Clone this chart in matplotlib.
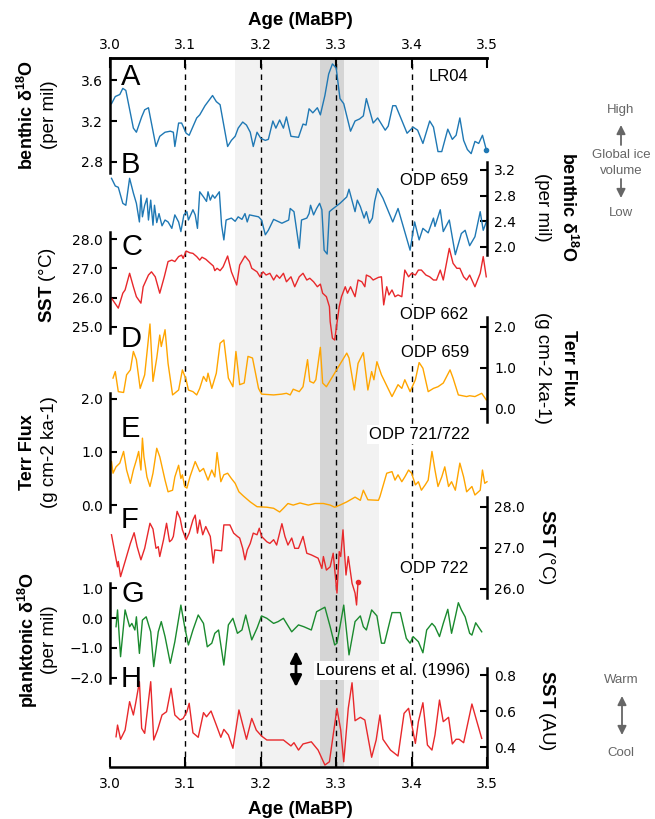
import matplotlib
matplotlib.use("Agg")
import matplotlib.pyplot as plt

plt.rcParams['mathtext.fontset'] = 'custom'
plt.rcParams['mathtext.rm'] = 'Liberation Sans'
plt.rcParams['mathtext.bf'] = 'Liberation Sans:bold'
plt.rcParams['mathtext.it'] = 'Liberation Sans:italic'

# ---- data (age in Ma, value) ----
lr04 = [(3.002, 3.37), (3.007, 3.44), (3.013, 3.46), (3.017, 3.52), (3.021, 3.50), (3.031, 3.13),
        (3.035, 3.09), (3.042, 3.24), (3.046, 3.31), (3.051, 3.33), (3.061, 2.95), (3.066, 3.05),
        (3.073, 3.09), (3.080, 3.10), (3.084, 3.09), (3.086, 2.95), (3.091, 3.18), (3.095, 3.18),
        (3.101, 3.08), (3.105, 3.06), (3.115, 3.23), (3.119, 3.26), (3.126, 3.35), (3.130, 3.39),
        (3.136, 3.45), (3.141, 3.39), (3.146, 3.36), (3.156, 2.95), (3.161, 3.01), (3.166, 3.05),
        (3.170, 3.13), (3.176, 3.19), (3.181, 3.16), (3.186, 3.09), (3.190, 2.95), (3.195, 3.09),
        (3.200, 3.03), (3.206, 3.01), (3.210, 3.02), (3.216, 3.20), (3.220, 3.13), (3.225, 3.21),
        (3.230, 3.13), (3.234, 3.24), (3.240, 3.05), (3.250, 3.04), (3.256, 3.17), (3.260, 3.16),
        (3.264, 3.32), (3.269, 3.28), (3.275, 3.33), (3.279, 3.26), (3.285, 3.45), (3.290, 3.66),
        (3.295, 3.76), (3.300, 3.72), (3.305, 3.42), (3.310, 3.37), (3.319, 3.10), (3.325, 3.20),
        (3.331, 3.22), (3.336, 3.25), (3.340, 3.42), (3.349, 3.18), (3.355, 3.23), (3.365, 3.11),
        (3.369, 3.15), (3.375, 3.35), (3.379, 3.35), (3.394, 3.08), (3.402, 3.14), (3.408, 3.11),
        (3.415, 2.98), (3.424, 3.20), (3.429, 3.14), (3.435, 2.90), (3.440, 2.90), (3.448, 3.12),
        (3.454, 3.02), (3.459, 3.06), (3.464, 3.23), (3.469, 3.01), (3.474, 2.92), (3.479, 2.88),
        (3.484, 3.00), (3.489, 2.98), (3.494, 3.06), (3.499, 2.92)]

odp659_d18o = [(3.002, 3.07), (3.007, 2.95), (3.011, 2.93), (3.017, 2.68), (3.021, 2.65), (3.026, 3.07),
               (3.031, 2.84), (3.035, 2.68), (3.039, 2.39), (3.041, 2.81), (3.043, 2.47), (3.046, 2.65),
               (3.049, 2.76), (3.051, 2.42), (3.054, 2.73), (3.057, 2.34), (3.059, 2.65), (3.062, 2.38),
               (3.065, 2.52), (3.069, 2.33), (3.073, 2.42), (3.077, 2.39), (3.082, 2.29), (3.086, 2.50),
               (3.091, 2.39), (3.094, 2.24), (3.098, 2.50), (3.102, 2.55), (3.104, 2.42), (3.110, 2.58),
               (3.113, 2.50), (3.116, 2.29), (3.119, 2.86), (3.124, 2.78), (3.128, 2.71), (3.130, 2.86),
               (3.133, 2.73), (3.136, 2.81), (3.139, 2.76), (3.145, 2.86), (3.148, 2.34), (3.151, 2.11),
               (3.154, 2.42), (3.161, 2.45), (3.166, 2.40), (3.170, 2.47), (3.175, 2.43), (3.179, 2.52),
               (3.182, 2.39), (3.185, 2.50), (3.197, 2.47), (3.201, 2.42), (3.206, 2.19), (3.210, 2.26),
               (3.217, 2.43), (3.228, 2.37), (3.237, 2.42), (3.239, 2.60), (3.244, 2.55), (3.251, 1.98),
               (3.254, 2.42), (3.261, 2.45), (3.264, 2.52), (3.266, 2.65), (3.270, 2.50), (3.274, 2.60),
               (3.278, 2.68), (3.281, 2.58), (3.284, 1.95), (3.288, 1.89), (3.291, 2.55), (3.294, 2.58),
               (3.305, 2.68), (3.314, 2.78), (3.317, 2.90), (3.322, 2.68), (3.325, 2.55), (3.328, 2.73),
               (3.332, 2.63), (3.337, 2.45), (3.340, 2.55), (3.344, 2.37), (3.348, 2.45), (3.351, 2.71),
               (3.355, 2.91), (3.362, 2.76), (3.375, 2.39), (3.382, 2.60), (3.398, 1.95), (3.404, 2.39),
               (3.410, 2.11), (3.415, 2.29), (3.422, 2.22), (3.429, 2.45), (3.431, 2.32), (3.438, 2.58),
               (3.442, 2.24), (3.450, 2.42), (3.458, 1.88), (3.466, 2.21), (3.471, 2.26), (3.477, 2.02),
               (3.484, 2.16), (3.491, 2.55), (3.495, 2.26), (3.500, 2.42)]

odp662_sst = [(3.002, 25.98), (3.011, 25.64), (3.017, 26.15), (3.020, 26.26), (3.026, 26.83), (3.031, 26.37),
              (3.035, 26.03), (3.041, 25.81), (3.044, 26.37), (3.051, 26.77), (3.055, 26.88), (3.060, 26.71),
              (3.066, 26.15), (3.072, 26.71), (3.077, 27.23), (3.082, 27.28), (3.086, 27.23), (3.091, 27.40),
              (3.095, 27.45), (3.097, 27.34), (3.101, 27.59), (3.106, 27.53), (3.110, 27.51), (3.115, 27.40),
              (3.119, 27.28), (3.122, 27.38), (3.127, 27.31), (3.133, 27.17), (3.137, 27.08), (3.139, 26.92),
              (3.142, 27.00), (3.146, 26.92), (3.150, 27.05), (3.156, 27.42), (3.161, 26.88), (3.168, 26.43),
              (3.172, 27.11), (3.179, 27.42), (3.185, 27.23), (3.188, 27.00), (3.195, 26.88), (3.199, 26.71),
              (3.203, 26.88), (3.207, 26.77), (3.212, 26.83), (3.217, 26.60), (3.221, 26.77), (3.225, 26.66),
              (3.230, 26.83), (3.234, 26.54), (3.240, 26.71), (3.245, 26.37), (3.251, 26.71), (3.256, 26.83),
              (3.261, 26.60), (3.265, 26.66), (3.270, 26.54), (3.275, 26.37), (3.279, 26.46), (3.282, 26.15),
              (3.287, 26.03), (3.291, 25.69), (3.292, 25.18), (3.295, 24.61), (3.298, 24.55), (3.301, 25.12),
              (3.304, 25.69), (3.307, 26.03), (3.312, 26.37), (3.315, 26.15), (3.319, 26.37), (3.325, 26.03),
              (3.329, 26.60), (3.334, 26.54), (3.338, 26.37), (3.340, 26.77), (3.345, 26.71), (3.349, 26.60),
              (3.356, 26.69), (3.360, 26.71), (3.363, 25.75), (3.367, 26.37), (3.370, 26.09), (3.374, 26.26),
              (3.378, 26.03), (3.382, 26.09), (3.387, 26.03), (3.391, 26.94), (3.396, 26.71), (3.400, 26.83),
              (3.405, 26.77), (3.409, 26.94), (3.413, 26.94), (3.419, 26.77), (3.424, 26.71), (3.429, 26.60),
              (3.433, 26.60), (3.438, 26.94), (3.442, 26.60), (3.450, 27.68), (3.455, 27.17), (3.460, 27.00),
              (3.464, 27.00), (3.469, 26.71), (3.473, 26.60), (3.477, 26.77), (3.484, 26.37), (3.491, 26.83),
              (3.495, 27.40), (3.499, 26.71)]

odp659_flux = [(3.004, 0.75), (3.007, 0.91), (3.011, 0.42), (3.018, 0.40), (3.022, 0.83), (3.027, 0.95),
               (3.031, 1.40), (3.035, 1.20), (3.040, 0.50), (3.046, 0.83), (3.053, 2.07), (3.057, 0.67),
               (3.062, 1.24), (3.066, 1.80), (3.068, 1.52), (3.073, 1.93), (3.077, 1.11), (3.083, 0.34),
               (3.091, 0.46), (3.096, 0.95), (3.101, 0.71), (3.104, 0.46), (3.110, 0.42), (3.115, 0.34),
               (3.119, 0.50), (3.124, 0.79), (3.128, 0.67), (3.130, 0.87), (3.135, 0.50), (3.141, 0.87),
               (3.146, 1.60), (3.151, 1.68), (3.157, 0.75), (3.163, 0.54), (3.167, 1.40), (3.172, 0.59),
               (3.178, 0.63), (3.183, 1.28), (3.189, 1.24), (3.197, 0.50), (3.201, 0.36), (3.217, 0.34),
               (3.228, 0.36), (3.234, 0.38), (3.239, 0.34), (3.243, 0.48), (3.251, 0.42), (3.256, 0.54),
               (3.262, 1.20), (3.265, 0.67), (3.270, 0.63), (3.273, 0.71), (3.279, 1.50), (3.282, 0.63),
               (3.287, 0.54), (3.314, 1.36), (3.317, 1.24), (3.324, 0.46), (3.329, 1.11), (3.336, 1.37),
               (3.342, 0.46), (3.347, 0.91), (3.350, 0.71), (3.354, 1.15), (3.360, 0.83), (3.374, 0.30),
               (3.382, 0.59), (3.387, 0.50), (3.391, 0.71), (3.398, 0.42), (3.405, 0.71), (3.410, 1.13),
               (3.415, 0.99), (3.422, 0.42), (3.429, 0.50), (3.435, 0.54), (3.442, 0.63), (3.451, 0.95),
               (3.455, 0.75), (3.462, 0.34), (3.473, 0.30), (3.477, 0.32), (3.484, 0.30), (3.493, 0.38),
               (3.499, 0.22)]

odp721_flux = [(3.002, 0.82), (3.004, 0.60), (3.008, 0.72), (3.013, 0.79), (3.018, 1.01), (3.022, 0.66),
               (3.027, 0.41), (3.031, 0.66), (3.035, 0.85), (3.038, 1.01), (3.041, 0.66), (3.043, 1.26),
               (3.045, 0.91), (3.049, 0.53), (3.053, 0.35), (3.057, 0.60), (3.062, 1.07), (3.066, 0.91),
               (3.073, 0.47), (3.077, 0.25), (3.083, 0.28), (3.086, 0.53), (3.091, 0.75), (3.094, 0.50),
               (3.096, 0.57), (3.099, 0.35), (3.102, 0.32), (3.106, 0.53), (3.113, 0.82), (3.119, 0.63),
               (3.124, 0.69), (3.130, 0.47), (3.135, 0.66), (3.139, 0.53), (3.142, 0.99), (3.147, 0.44),
               (3.151, 0.57), (3.156, 0.60), (3.161, 0.50), (3.166, 0.41), (3.171, 0.25), (3.177, 0.17),
               (3.186, 0.06), (3.195, -0.03), (3.208, -0.04), (3.217, -0.06), (3.225, -0.13), (3.230, -0.06),
               (3.236, 0.03), (3.243, 0.00), (3.252, 0.04), (3.263, 0.00), (3.272, 0.03), (3.283, 0.03),
               (3.292, 0.00), (3.298, -0.04), (3.305, 0.00), (3.314, 0.06), (3.325, 0.15), (3.332, 0.09),
               (3.336, 0.28), (3.342, 0.10), (3.356, 0.09), (3.358, 0.16), (3.367, 0.60), (3.374, 0.63),
               (3.378, 0.47), (3.382, 0.57), (3.387, 0.44), (3.391, 0.53), (3.396, 0.66), (3.400, 0.60),
               (3.405, 0.38), (3.409, 0.44), (3.413, 0.28), (3.418, 0.38), (3.422, 0.47), (3.427, 1.01),
               (3.431, 0.66), (3.435, 0.35), (3.440, 0.53), (3.444, 0.72), (3.449, 0.35), (3.453, 0.44),
               (3.458, 0.28), (3.464, 0.79), (3.469, 0.53), (3.473, 0.25), (3.480, 0.35), (3.484, 0.19),
               (3.491, 0.28), (3.494, 0.66), (3.497, 0.41), (3.500, 0.44)]

odp722_sst = [(3.002, 27.32), (3.007, 26.83), (3.010, 26.54), (3.011, 26.67), (3.014, 26.30), (3.020, 26.67),
              (3.027, 27.11), (3.032, 27.37), (3.036, 27.03), (3.041, 26.71), (3.046, 26.99), (3.053, 27.60),
              (3.057, 27.46), (3.061, 26.99), (3.064, 27.03), (3.066, 26.79), (3.071, 27.20), (3.075, 27.60),
              (3.079, 27.15), (3.082, 27.20), (3.084, 27.28), (3.089, 27.89), (3.093, 27.72), (3.096, 27.44),
              (3.101, 27.20), (3.105, 27.36), (3.110, 27.68), (3.113, 27.80), (3.116, 27.36), (3.119, 27.68),
              (3.123, 27.32), (3.127, 27.52), (3.133, 27.28), (3.137, 26.63), (3.139, 26.95), (3.148, 26.93),
              (3.151, 27.56), (3.159, 27.56), (3.164, 27.36), (3.169, 27.28), (3.172, 27.24), (3.176, 26.99),
              (3.179, 26.71), (3.182, 26.95), (3.186, 27.11), (3.190, 27.36), (3.195, 27.32), (3.198, 27.48),
              (3.201, 27.28), (3.208, 27.15), (3.212, 27.11), (3.217, 27.20), (3.221, 27.07), (3.228, 27.59),
              (3.232, 27.28), (3.236, 27.07), (3.241, 27.24), (3.245, 26.99), (3.250, 26.99), (3.256, 27.28),
              (3.261, 26.87), (3.267, 26.83), (3.276, 26.75), (3.281, 26.50), (3.283, 26.79), (3.287, 26.46),
              (3.292, 26.54), (3.296, 26.87), (3.301, 25.90), (3.304, 26.91), (3.306, 26.79), (3.309, 27.44),
              (3.313, 26.34), (3.316, 26.79), (3.321, 26.14), (3.325, 25.90), (3.327, 25.61), (3.329, 26.18)]

lourens_d18o = [(3.008, -0.29), (3.010, 0.27), (3.014, -1.29), (3.020, 0.27), (3.026, -0.29), (3.029, -0.18),
                (3.033, -0.40), (3.035, 0.04), (3.039, -1.18), (3.043, -0.07), (3.048, 0.04), (3.054, -0.46),
                (3.058, -1.62), (3.064, -0.46), (3.068, -0.12), (3.073, -0.62), (3.080, -1.51), (3.086, -0.79),
                (3.094, 0.43), (3.099, -0.29), (3.104, -0.90), (3.110, -0.40), (3.117, 0.10), (3.124, -0.18),
                (3.129, -0.96), (3.135, -0.84), (3.139, -0.51), (3.144, -0.40), (3.151, -1.57), (3.157, -0.23),
                (3.163, -0.01), (3.169, -0.51), (3.175, -0.40), (3.180, 0.10), (3.188, -0.73), (3.195, -0.34),
                (3.201, 0.07), (3.208, -0.01), (3.217, -0.18), (3.223, -0.12), (3.230, -0.01), (3.241, -0.46),
                (3.250, -0.23), (3.257, -0.29), (3.267, -0.40), (3.274, 0.21), (3.285, 0.36), (3.292, -0.29),
                (3.298, -0.90), (3.301, -0.84), (3.305, -0.29), (3.310, 0.43), (3.317, -1.23), (3.325, -0.12),
                (3.332, 0.07), (3.336, -0.29), (3.340, -0.40), (3.347, 0.27), (3.354, 0.07), (3.360, -0.84),
                (3.364, -0.84), (3.374, 0.18), (3.385, 0.18), (3.393, -0.68), (3.398, -0.84), (3.402, -0.62),
                (3.409, -0.79), (3.415, -1.16), (3.420, -0.40), (3.427, -0.18), (3.431, -0.29), (3.437, -0.62),
                (3.442, -0.18), (3.448, 0.29), (3.453, -0.51), (3.458, 0.04), (3.462, 0.51), (3.466, 0.27),
                (3.471, 0.04), (3.477, -0.51), (3.480, -0.57), (3.485, -0.16), (3.493, -0.46)]

lourens_sst = [(3.008, 0.457), (3.010, 0.522), (3.014, 0.443), (3.020, 0.494), (3.026, 0.652), (3.031, 0.578),
               (3.034, 0.643), (3.039, 0.763), (3.042, 0.504), (3.046, 0.476), (3.054, 0.763), (3.058, 0.439),
               (3.063, 0.494), (3.069, 0.578), (3.075, 0.596), (3.081, 0.726), (3.086, 0.578), (3.093, 0.550),
               (3.097, 0.559), (3.102, 0.596), (3.105, 0.643), (3.110, 0.479), (3.117, 0.454), (3.124, 0.591),
               (3.128, 0.568), (3.134, 0.600), (3.141, 0.522), (3.147, 0.454), (3.151, 0.498), (3.157, 0.467),
               (3.163, 0.393), (3.171, 0.606), (3.181, 0.443), (3.188, 0.559), (3.194, 0.494), (3.201, 0.461),
               (3.208, 0.439), (3.230, 0.439), (3.240, 0.406), (3.244, 0.424), (3.250, 0.383), (3.256, 0.417),
               (3.267, 0.429), (3.276, 0.383), (3.285, 0.300), (3.291, 0.318), (3.301, 0.615), (3.306, 0.494),
               (3.310, 0.318), (3.316, 0.615), (3.321, 0.757), (3.325, 0.546), (3.332, 0.565), (3.338, 0.550),
               (3.347, 0.343), (3.353, 0.439), (3.358, 0.578), (3.362, 0.443), (3.372, 0.383), (3.382, 0.350),
               (3.390, 0.587), (3.396, 0.615), (3.405, 0.420), (3.409, 0.541), (3.415, 0.646), (3.421, 0.411),
               (3.427, 0.383), (3.431, 0.467), (3.437, 0.661), (3.442, 0.541), (3.449, 0.565), (3.454, 0.417),
               (3.459, 0.443), (3.463, 0.443), (3.469, 0.424), (3.480, 0.639), (3.486, 0.550), (3.493, 0.448)]

age_ticks = [3.0, 3.1, 3.2, 3.3, 3.4, 3.5]
mpt_window = (3.166, 3.357)
m2_window = (3.2785, 3.310)

BLUE = '#1f78b4'
RED = '#e8282b'
ORANGE = '#ffa500'
GREEN = '#1a8a2e'
FONT = 'Liberation Sans'

W, H = 655, 819
fig = plt.figure(figsize=(W / 100, H / 100), dpi=100)


def fx(px):
    return px / W


def fy(py):
    return 1 - py / H


# main frame with the two age axes
ax = fig.add_axes([fx(110), fy(767), 377 / W, (767 - 58) / H])
ax.set_xlim(3.0, 3.5)
ax.set_ylim(0, 1)
ax.set_yticks([])
for s in ['left', 'right']:
    ax.spines[s].set_visible(False)
for s in ['top', 'bottom']:
    ax.spines[s].set_linewidth(1.8)
ax.set_xticks(age_ticks)
ax.set_xticklabels([f'{t:.1f}' for t in age_ticks])
ax.tick_params(axis='x', direction='in', length=7, width=1.5, top=False, bottom=True,
               labeltop=False, labelbottom=True, pad=7, labelsize=10)
top = ax.secondary_xaxis('top')
top.set_xticks(age_ticks)
top.set_xticklabels([f'{t:.1f}' for t in age_ticks])
top.spines['top'].set_linewidth(1.8)
top.tick_params(axis='x', direction='in', length=7, width=1.5, pad=4.5, labelsize=10)

ax.axvspan(*mpt_window, color='#f2f2f2', lw=0, zorder=0)
ax.axvspan(*m2_window, color='#d5d5d5', lw=0, zorder=0)
for t in age_ticks[1:-1]:
    ax.axvline(t, color='k', lw=1.0, ls=(0, (4, 3.5)), zorder=1)

fig.text(fx(300), fy(25), 'Age (MaBP)', ha='center', va='baseline', fontsize=13.5,
         fontweight='bold', family=FONT)
fig.text(fx(300), fy(814), 'Age (MaBP)', ha='center', va='baseline', fontsize=13.5,
         fontweight='bold', family=FONT)


def panel(top, bot, ylim, side, ticks, pts, color, end_dot=False):
    a = fig.add_axes([fx(110), fy(bot), 377 / W, (bot - top) / H])
    a.patch.set_visible(False)
    a.set_xlim(3.0, 3.5)
    a.set_ylim(*ylim)
    a.xaxis.set_visible(False)
    for s in a.spines:
        a.spines[s].set_visible(s == side)
    a.spines[side].set_linewidth(1.8)
    a.yaxis.set_ticks_position(side)
    a.set_yticks(ticks)
    a.set_yticklabels([f'{t:.1f}'.replace('-', '\u2212') for t in ticks])
    a.tick_params(axis='y', direction='in', length=5, width=1.5, pad=5, labelsize=10)
    xs = [p[0] for p in pts]
    ys = [p[1] for p in pts]
    a.plot(xs, ys, color=color, lw=1.0, clip_on=False)
    if end_dot:
        a.plot(xs[-1], ys[-1], 'o', color=color, ms=3, clip_on=False)
    return a


panel(58, 173, (2.690, 3.818), 'left', [2.8, 3.2, 3.6], lr04, BLUE, end_dot=True)
panel(162, 255, (1.875, 3.324), 'right', [2.0, 2.4, 2.8, 3.2], odp659_d18o, BLUE)
panel(232, 333, (24.79, 28.24), 'left', [25.0, 26.0, 27.0, 28.0], odp662_sst, RED)
panel(317, 422, (-0.32, 2.24), 'right', [0.0, 1.0, 2.0], odp659_flux, ORANGE)
panel(393, 512, (-0.13, 2.11), 'left', [0.0, 1.0, 2.0], odp721_flux, ORANGE)
panel(497, 598, (25.78, 28.24), 'right', [26.0, 27.0, 28.0], odp722_sst, RED, end_dot=True)
panel(583, 683, (-2.167, 1.167), 'left', [-2.0, -1.0, 0.0, 1.0], lourens_d18o, GREEN)
panel(668, 767, (0.289, 0.839), 'right', [0.4, 0.6, 0.8], lourens_sst, RED)

# panel letters
letters = ['A', 'B', 'C', 'D', 'E', 'F', 'G', 'H']
letter_y = [85, 173, 255, 347, 437, 528, 602, 687]
for l, y in zip(letters, letter_y):
    fig.text(fx(121), fy(y), l, ha='left', va='baseline', fontsize=21, family=FONT)

# site labels (white box hides the dashed guide behind them)
sites = ['LR04', 'ODP 659', 'ODP 662', 'ODP 659', 'ODP 721/722', 'ODP 722', 'Lourens et al. (1996)']
site_pos = [(468, 81), (468, 185), (468, 319), (469, 357), (470, 439), (468, 573), (470, 675)]
for s, (x, y) in zip(sites, site_pos):
    fig.text(fx(x), fy(y), s, ha='right', va='baseline', fontsize=12, family=FONT,
             bbox=dict(facecolor='white', edgecolor='none', pad=1.5))

# y labels
LS = 13.5


def ylab(x, y, s, rot, bold):
    fig.text(fx(x), fy(y), s, rotation=rot, ha='center', va='center',
             fontsize=13 if bold else LS, family=FONT,
             fontweight='bold' if bold else 'normal')


d18o = r'benthic δ$^{\mathbf{18}}$O'
ylab(27, 115, d18o, 90, True)
ylab(50, 115, '(per mil)', 90, False)
ylab(48, 285, r'$\mathbf{SST}$ (°C)', 90, False)
ylab(28, 452, 'Terr Flux', 90, True)
ylab(50, 452, '(g cm-2 ka-1)', 90, False)
ylab(28, 640, r'planktonic δ$^{\mathbf{18}}$O', 90, True)
ylab(50, 640, '(per mil)', 90, False)

ylab(568, 207, d18o, 270, True)
ylab(542, 207, '(per mil)', 270, False)
ylab(568, 368, 'Terr Flux', 270, True)
ylab(542, 368, '(g cm-2 ka-1)', 270, False)
ylab(547, 547, r'$\mathbf{SST}$ (°C)', 270, False)
ylab(547, 711, r'$\mathbf{SST}$ (AU)', 270, False)

# ice volume / temperature keys
GREY = '#666666'
for s, y in [('High', 110), ('Global ice', 155), ('volume', 171), ('Low', 213),
             ('Warm', 680), ('Cool', 753)]:
    fig.text(fx(621), fy(y), s, ha='center', va='center', fontsize=9.5, color=GREY, family=FONT)

arr = dict(color=GREY, lw=1.3, mutation_scale=13, shrinkA=0, shrinkB=0)
ax.annotate('', xy=(fx(621), fy(125)), xytext=(fx(621), fy(145)), xycoords='figure fraction',
            arrowprops=dict(arrowstyle='-|>', **arr))
ax.annotate('', xy=(fx(621), fy(198)), xytext=(fx(621), fy(179)), xycoords='figure fraction',
            arrowprops=dict(arrowstyle='-|>', **arr))
ax.annotate('', xy=(fx(622), fy(696)), xytext=(fx(622), fy(735)), xycoords='figure fraction',
            arrowprops=dict(arrowstyle='<|-|>', **arr))
ax.annotate('', xy=(fx(296), fy(651)), xytext=(fx(296), fy(687)), xycoords='figure fraction',
            arrowprops=dict(arrowstyle='<|-|>', color='k', lw=2, mutation_scale=17,
                            shrinkA=0, shrinkB=0))

fig.savefig('out.png', dpi=100)
